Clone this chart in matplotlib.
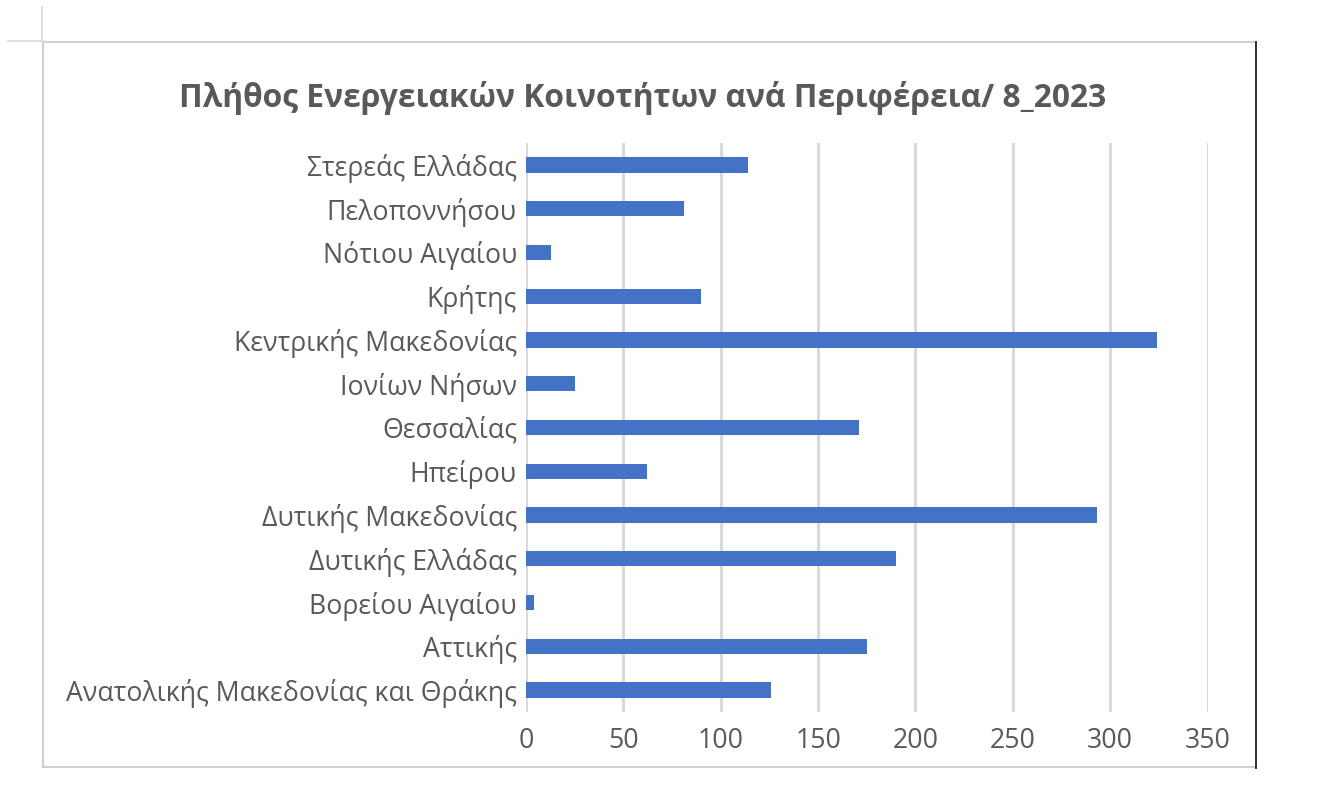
import matplotlib
matplotlib.use("Agg")
import matplotlib.pyplot as plt
from matplotlib.lines import Line2D

plt.rcParams['font.family'] = ['Open Sans', 'DejaVu Sans']

# regions listed bottom -> top (as drawn)
regions = [
    'Ανατολικής Μακεδονίας και Θράκης',
    'Αττικής',
    'Βορείου Αιγαίου',
    'Δυτικής Ελλάδας',
    'Δυτικής Μακεδονίας',
    'Ηπείρου',
    'Θεσσαλίας',
    'Ιονίων Νήσων',
    'Κεντρικής Μακεδονίας',
    'Κρήτης',
    'Νότιου Αιγαίου',
    'Πελοποννήσου',
    'Στερεάς Ελλάδας',
]
counts = [126, 175, 4, 190, 293, 62, 171, 25, 324, 90, 13, 81, 114]
xticks = [0, 50, 100, 150, 200, 250, 300, 350]
title = 'Πλήθος Ενεργειακών Κοινοτήτων ανά Περιφέρεια/ 8_2023'

W, H = 1325, 796
fig = plt.figure(figsize=(W / 100, H / 100), dpi=100)
fig.patch.set_facecolor('white')

ax = fig.add_axes([526 / W, 1 - 712 / H, (1207.5 - 526) / W, (712 - 143) / H])
ax.barh(range(len(regions)), counts, height=0.35, color='#4472C4', zorder=3)
ax.set_ylim(-0.5, len(regions) - 0.5)
ax.set_xlim(0, 350)
ax.set_xticks(xticks)
ax.set_yticks(range(len(regions)))
ax.set_yticklabels(regions)
ax.grid(axis='x', color='#D9D9D9', linewidth=2.2, zorder=0)
ax.set_axisbelow(True)
for s in ax.spines.values():
    s.set_visible(False)
ax.tick_params(axis='both', length=0, colors='#595959', labelsize=19.2)
ax.tick_params(axis='y', pad=6.5)
ax.tick_params(axis='x', pad=11)

fig.text(643 / W, 1 - 98 / H, title, ha='center', va='center',
         fontsize=22.9, fontweight='bold', color='#595959')

# chart frame and corner marks
def px_line(x0, y0, x1, y1, color, lw):
    fig.add_artist(Line2D([x0 / W, x1 / W], [1 - y0 / H, 1 - y1 / H],
                          transform=fig.transFigure, color=color, linewidth=lw))

px_line(43, 42, 1256, 42, '#D0D0D0', 1.5)
px_line(43, 42, 43, 767, '#D0D0D0', 1.5)
px_line(43, 767, 1256, 767, '#D0D0D0', 1.5)
px_line(1256, 42, 1256, 768, '#222222', 1.3)
px_line(42, 7, 42, 41, '#D8D8D8', 1.2)
px_line(8, 40.5, 42, 40.5, '#D8D8D8', 1.2)

fig.savefig('out.png', dpi=100)
